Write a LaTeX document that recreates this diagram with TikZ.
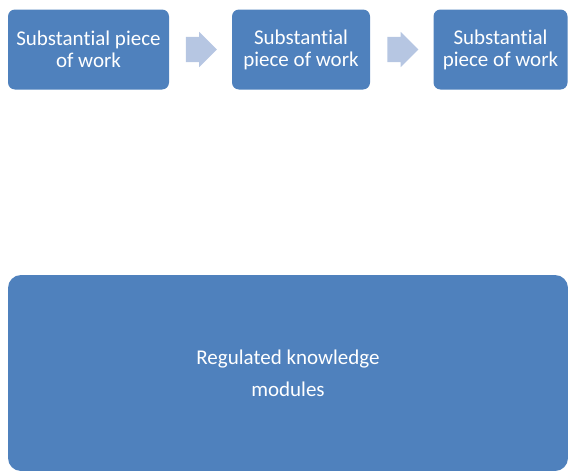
\documentclass[tikz,border=0pt]{standalone}
\usepackage{fontspec}
\setmainfont{Carlito}[Ligatures=NoCommon]
\usetikzlibrary{shapes.arrows}

\definecolor{boxblue}{RGB}{79,129,189}
\definecolor{arrowblue}{RGB}{182,198,226}

\begin{document}
\begin{tikzpicture}[
	x=1pt, y=1pt,
	node distance=100pt,
	text centered,
	font=\fontsize{21}{22}\selectfont,
	desc/.style={
		rectangle,
		rounded corners=7pt,
		fill=boxblue,
		text=white,
		align=center,
		inner sep=0pt
	},
	top/.style={
	minimum height=80pt
	},
	nxt/.style={
		single arrow,
		fill=arrowblue,
		minimum height=31pt,
		minimum width=35pt,
		single arrow head extend=5pt,
		inner xsep=0pt, inner ysep=12.5pt
	},
	big/.style={
	minimum width=560pt,
	minimum height=196pt,
	rounded corners=13pt,
	font=\fontsize{21}{32}\selectfont
	}
	]
	\useasboundingbox (0,0) rectangle (568,-471);

	\node [desc,top,minimum width=161pt] (Work1) at (88.5,-49.5) {Substantial piece\\of work};
	\node [nxt, right of=Work1, xshift=6.5pt] (Next1) {};
	\node [desc,top,minimum width=138pt, right of=Next1, xshift=6pt] (Work2) {Substantial\\piece of work};
	\node [nxt, right of=Work2, xshift=-4.5pt] (Next2) {};
	\node [desc,top,minimum width=134pt, right of=Next2, xshift=4pt] (Work3) {Substantial\\piece of work};

	\node [desc,big] (Modules) at (288,-373) {Regulated knowledge\\modules};

	\end{tikzpicture}
\end{document}
